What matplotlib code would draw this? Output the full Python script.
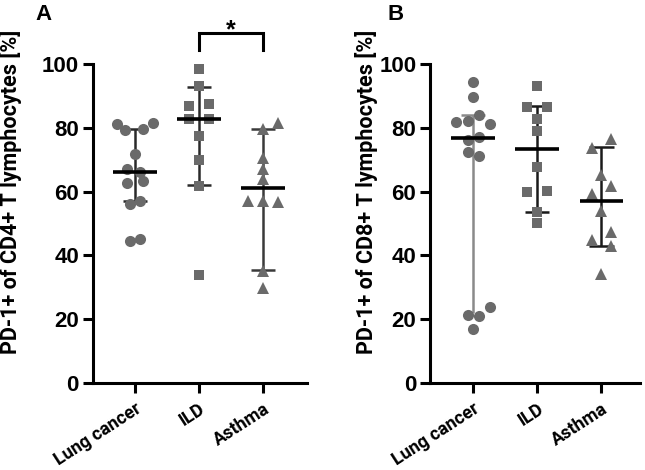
import matplotlib
matplotlib.use('Agg')
import matplotlib.pyplot as plt

groups = ['Lung cancer', 'ILD', 'Asthma']

# panel A - PD-1+ of CD4+ T cells
a_lung = [81.2, 79.4, 79.7, 81.6, 71.9, 67.2, 66.0, 62.8, 63.4, 56.2, 57.2, 45.2, 44.4]
a_ild = [98.4, 93.0, 86.9, 87.5, 82.8, 82.8, 77.3, 70.0, 61.6, 33.8]
a_asthma = [81.6, 79.6, 70.6, 67.2, 64.0, 57.2, 57.2, 56.7, 35.1, 29.8]
a_median = [66.0, 82.8, 61.0]
a_low = [57.0, 62.0, 35.3]
a_high = [79.7, 92.8, 79.6]

# panel B - PD-1+ of CD8+ T cells
b_lung = [94.2, 89.5, 84.1, 81.7, 82.0, 81.2, 77.2, 76.1, 72.3, 71.2, 21.4, 20.9, 23.8, 16.8]
b_ild = [93.1, 86.5, 86.5, 82.7, 79.1, 67.8, 59.8, 60.3, 53.5, 50.1]
b_asthma = [76.5, 73.8, 65.3, 61.6, 59.2, 53.9, 47.3, 44.9, 42.8, 34.3]
b_median = [76.7, 73.3, 56.9]
b_low = [21.9, 53.7, 43.1]
b_high = [84.1, 86.9, 74.0]

# horizontal jitter of the points, in pixels
a_lung_dx = [-18, -10, 8, 18, 0, -8, 5, -8, 8, -5, 5, 5, -5]
a_ild_dx = [0, 0, -10, 10, -10, 10, 0, 0, 0, 0]
a_asthma_dx = [15, 0, 0, 0, 0, -15, 0, 15, 0, 0]
b_lung_dx = [0, 0, 6, -17, -5, 17, 6, -5, -5, 6, -5, 6, 17, 0]
b_ild_dx = [0, -10, 10, 0, 0, 0, -10, 10, 0, 0]
b_asthma_dx = [10, -9, 0, 10, -9, 0, 10, -9, 10, 0]

markers = ['o', 's', '^']
msizes = [8, 7.5, 8.5]
pt_color = '#6a6a6a'
tick_font = 'Liberation Sans'
label_font = 'Roboto'

fig = plt.figure(figsize=(6.45, 4.70), dpi=100)


def panel(ax, data, dxs, med, lo, hi, ylabel, whisk_colors, low_caps, label_x):
    for i in range(3):
        x = i + 1
        xs = [x + d / 64.0 for d in dxs[i]]
        c = whisk_colors[i]
        ax.vlines(x, lo[i], hi[i], color=c, lw=1.8, zorder=2)
        ax.hlines(hi[i], x - 0.19, x + 0.19, color=c, lw=1.8, zorder=2)
        if low_caps[i]:
            ax.hlines(lo[i], x - 0.19, x + 0.19, color=c, lw=1.8, zorder=2)
        ax.plot(xs, data[i], linestyle='none', marker=markers[i],
                markersize=msizes[i], color=pt_color, markeredgewidth=0,
                zorder=3)
        ax.hlines(med[i], x - 0.34, x + 0.34, color='black', lw=2.6, zorder=4)
    ax.set_ylim(0, 100)
    ax.set_yticks([0, 20, 40, 60, 80, 100])
    ax.set_xticks([1, 2, 3])
    ax.set_xticklabels(groups, rotation=33, ha='right', rotation_mode='anchor',
                       fontsize=13, fontweight='bold', family=label_font)
    for t in ax.get_yticklabels():
        t.set_fontsize(16)
        t.set_fontweight('bold')
        t.set_family(tick_font)
    ax.spines['top'].set_visible(False)
    ax.spines['right'].set_visible(False)
    ax.spines['left'].set_linewidth(2.2)
    ax.spines['bottom'].set_linewidth(2.2)
    ax.tick_params(axis='both', width=2.2, length=7, pad=3)
    ax.tick_params(axis='x', pad=5)
    ax.set_ylabel(ylabel, fontsize=15.5, fontweight='bold', family=label_font)
    ax.yaxis.set_label_coords(label_x, 0.6)


axA = fig.add_axes([0.144, 0.185, 0.332, 0.679])
axA.set_xlim(0.344, 3.69)
panel(axA, [a_lung, a_ild, a_asthma], [a_lung_dx, a_ild_dx, a_asthma_dx],
      a_median, a_low, a_high, 'PD-1+ of CD4+ T lymphocytes [%]',
      ['#2a2a2a', '#2a2a2a', '#3a3a3a'], [True, True, True], -0.33)

# significance bracket ILD vs Asthma
axA.plot([2, 2, 3, 3], [104.5, 109.7, 109.7, 104.5], color='black', lw=2.2,
         clip_on=False, solid_joinstyle='miter')
axA.text(2.5, 108.3, '*', fontsize=18, fontweight='bold', ha='center',
         va='baseline', family=tick_font, clip_on=False)

axB = fig.add_axes([0.667, 0.185, 0.326, 0.679])
axB.set_xlim(0.33, 3.61)
panel(axB, [b_lung, b_ild, b_asthma], [b_lung_dx, b_ild_dx, b_asthma_dx],
      b_median, b_low, b_high, 'PD-1+ of CD8+ T lymphocytes [%]',
      ['#8a8a8a', '#1a1a1a', '#1a1a1a'], [False, True, True], -0.25)

fig.text(44 / 645, 1 - 14 / 470, 'A', fontsize=16, fontweight='bold',
         family=tick_font, ha='center', va='center')
fig.text(396 / 645, 1 - 14 / 470, 'B', fontsize=16, fontweight='bold',
         family=tick_font, ha='center', va='center')

fig.savefig('out.png', dpi=100)
